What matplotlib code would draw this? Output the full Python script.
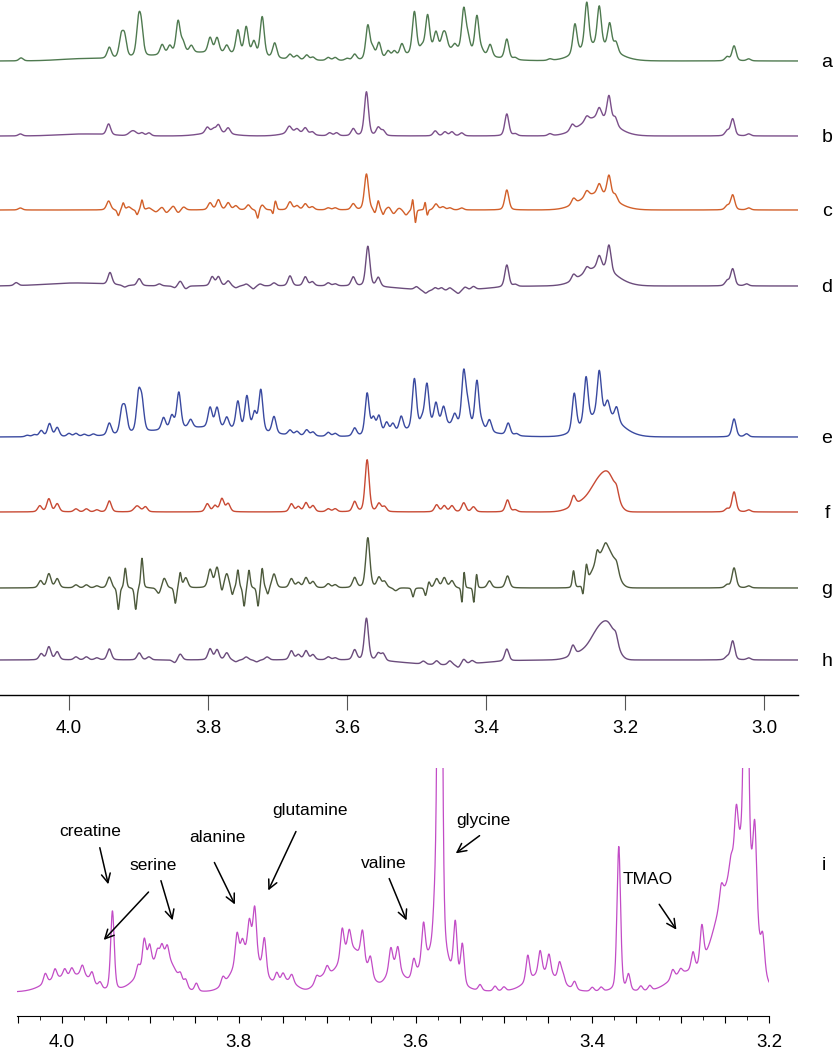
import numpy as np
import matplotlib
matplotlib.use("Agg")
import matplotlib.pyplot as plt

plt.rcParams['font.family'] = ['Liberation Sans', 'DejaVu Sans']

# ---------------- data: peak lists (ppm, height[px], half-width[ppm]) ----------------
W = 0.0035
a_peaks = [(4.069, 3, W), (3.98, 2, 0.04), (3.942, 11, W), (3.925, 20, W), (3.920, 20, W), (3.900, 32, W),
           (3.896, 26, W), (3.866, 10, W), (3.855, 8, W), (3.843, 32, W), (3.836, 10, W), (3.824, 7, W),
           (3.81, 8, 0.08), (3.797, 15, W), (3.787, 15, W), (3.773, 8, W), (3.757, 24, W), (3.745, 28, W),
           (3.734, 14, W), (3.722, 40, W), (3.704, 15, W), (3.682, 5, W), (3.672, 4, W), (3.658, 5, W),
           (3.649, 3, W), (3.627, 3, W), (3.617, 3, W), (3.600, 2, W), (3.589, 6, W), (3.570, 34, W),
           (3.563, 10, W), (3.554, 16, W), (3.541, 7, W), (3.532, 6, W), (3.521, 12, W), (3.46, 10, 0.055),
           (3.503, 42, W), (3.492, 5, W), (3.484, 36, W), (3.472, 18, W), (3.462, 12, W), (3.458, 12, W),
           (3.445, 6, W), (3.432, 42, W), (3.426, 14, W), (3.413, 38, W), (3.406, 4, W), (3.394, 12, W),
           (3.370, 20, W), (3.358, 2, W), (3.308, 1.5, W), (3.24, 14, 0.03), (3.272, 30, W), (3.255, 46, W),
           (3.237, 40, W), (3.222, 26, W), (3.213, 10, W), (3.053, 4, W), (3.043, 15, W), (3.022, 2, W)]

b_peaks = [(4.070, 2, W), (3.98, 2, 0.04), (3.943, 11, W), (3.908, 5, 0.006), (3.895, 3, W), (3.885, 3, W),
           (3.79, 3, 0.025), (3.801, 6, W), (3.792, 4, W), (3.785, 8, W), (3.771, 6, W), (3.675, 3, 0.02),
           (3.683, 7, 0.004), (3.672, 4, W), (3.660, 6, W), (3.650, 3, W), (3.625, 3, W), (3.615, 3, W),
           (3.591, 7, W), (3.572, 44, W), (3.555, 8, W), (3.548, 5, W), (3.473, 5, W), (3.459, 4, W),
           (3.449, 4, W), (3.435, 3, W), (3.370, 22, W), (3.358, 2, W), (3.308, 2, W), (3.24, 18, 0.028),
           (3.276, 6, W), (3.255, 5, W), (3.237, 10, W), (3.223, 26, W), (3.214, 8, W), (3.053, 5, W),
           (3.045, 17, W), (3.022, 2, W)]

c_peaks = [(4.070, 2, W), (3.943, 9, W), (3.929, -6, 0.002), (3.922, 7, 0.002), (3.914, 3, W),
           (3.902, -5, 0.002), (3.895, 10, 0.002), (3.885, 2, W), (3.875, -2, W), (3.866, 3, W),
           (3.860, -3, W), (3.850, 4, W), (3.843, -3, W), (3.835, 3, W), (3.797, 7, W), (3.785, 10, W),
           (3.771, 7, W), (3.760, 4, W), (3.742, 5, W), (3.7285, -9, 0.002), (3.722, 5, W),
           (3.7065, -5, 0.0015), (3.703, 9, 0.002), (3.682, 8, W), (3.672, 4, W), (3.660, 6, W), (3.650, 3, W),
           (3.627, 2, W), (3.617, 2, W), (3.591, 6, W), (3.572, 36, W), (3.560, -4, 0.002), (3.555, 9, 0.002),
           (3.548, -5, 0.002), (3.540, 3, W), (3.533, -4, W), (3.525, 2, W), (3.515, -5, W),
           (3.5055, 11, 0.0015), (3.5015, -13, 0.0015), (3.4875, 8, 0.0015), (3.4845, -6, 0.0015),
           (3.472, 6, W), (3.462, 3, W), (3.452, 2, W), (3.435, 2, W), (3.370, 20, W), (3.24, 16, 0.028),
           (3.274, 6, W), (3.255, 6, W), (3.237, 10, W), (3.223, 22, W), (3.214, 6, W), (3.053, 4, W),
           (3.045, 15, W), (3.022, 2, W)]

d_peaks = [(4.076, 3, W), (3.99, 3, 0.05), (3.941, 12, W), (3.92, -2, W), (3.899, 7, W), (3.870, 2, W),
           (3.848, -2, W), (3.840, 5, W), (3.832, -3, W), (3.794, 9, W), (3.785, 9, W), (3.771, 5, W),
           (3.760, -2, W), (3.745, 2, W), (3.735, -3, W), (3.725, 2, W), (3.705, 3, W), (3.682, 10, W),
           (3.660, 9, W), (3.650, 4, W), (3.627, 3, W), (3.617, 2, W), (3.591, 9, W), (3.570, 40, W),
           (3.555, 9, W), (3.46, -5, 0.06), (3.50, 3, W), (3.487, -3, W), (3.473, 3, W), (3.464, 3, W),
           (3.452, 3, W), (3.44, -3, W), (3.43, 3, W), (3.418, 3, W), (3.370, 22, W), (3.358, 2, W),
           (3.238, 18, 0.028), (3.274, 6, W), (3.255, 5, W), (3.237, 12, W), (3.223, 26, W), (3.053, 5, W),
           (3.045, 17, W), (3.025, 2, W)]

e_peaks = [(4.060, 1.5, W), (4.050, 2, W), (4.040, 6, W), (4.028, 13, W), (4.017, 9, W), (4.000, 3, W),
           (3.990, 3, W), (3.978, 2, W), (3.965, 2, W), (3.942, 12, W), (3.924, 22, W), (3.919, 22, W),
           (3.900, 36, W), (3.895, 28, W), (3.864, 12, W), (3.852, 13, W), (3.842, 36, W), (3.825, 8, W),
           (3.81, 9, 0.08), (3.797, 20, W), (3.787, 20, W), (3.773, 11, W), (3.757, 28, W), (3.744, 34, W),
           (3.733, 18, W), (3.724, 42, W), (3.705, 17, W), (3.682, 5, W), (3.672, 4, W), (3.658, 6, W),
           (3.649, 4, W), (3.627, 4, W), (3.617, 3, W), (3.589, 8, W), (3.571, 42, W), (3.562, 16, W),
           (3.554, 18, W), (3.543, 11, W), (3.534, 9, W), (3.522, 15, W), (3.46, 11, 0.055), (3.503, 50, W),
           (3.492, 7, W), (3.485, 42, W), (3.472, 22, W), (3.461, 18, W), (3.445, 11, W), (3.432, 54, W),
           (3.426, 20, W), (3.413, 48, W), (3.406, 6, W), (3.395, 12, W), (3.368, 12, W), (3.356, 2, W),
           (3.232, 22, 0.028), (3.273, 38, W), (3.256, 46, W), (3.237, 44, W), (3.225, 14, W), (3.212, 14, W),
           (3.043, 18, W), (3.025, 3, W)]

f_peaks = [(4.042, 6, W), (4.029, 13, W), (4.017, 8, W), (3.99, 3, W), (3.975, 3, W), (3.96, 2, W),
           (3.942, 11, W), (3.902, 6, 0.005), (3.890, 5, W), (3.801, 8, W), (3.790, 6, W), (3.780, 13, W),
           (3.771, 8, W), (3.680, 8, W), (3.670, 5, W), (3.659, 9, W), (3.649, 6, W), (3.627, 3, W),
           (3.617, 3, W), (3.589, 10, W), (3.571, 52, W), (3.554, 8, W), (3.546, 5, W), (3.471, 7, W),
           (3.460, 6, W), (3.449, 6, W), (3.432, 9, W), (3.418, 5, W), (3.369, 12, W), (3.358, 2, W),
           (3.274, 10, W), (3.258, 10, 0.02), (3.236, 26, 0.014), (3.221, 24, 0.011), (3.212, 8, W),
           (3.053, 3, W), (3.043, 20, W), (3.022, 2, W)]

g_peaks = [(4.041, 7, W), (4.029, 14, W), (4.017, 9, W), (3.99, 3, W), (3.975, 3, W), (3.96, 2, W),
           (3.942, 11, W), (3.929, -22, 0.002), (3.919, 20, 0.002), (3.904, -22, 0.002), (3.895, 30, 0.002),
           (3.871, -6, W), (3.863, 10, W), (3.847, -16, 0.002), (3.840, 15, 0.002), (3.832, 10, W),
           (3.797, 18, W), (3.787, 20, W), (3.780, -6, 0.002), (3.773, 14, W), (3.765, -8, 0.002),
           (3.757, 18, 0.002), (3.748, -19, 0.002), (3.741, 18, 0.002), (3.728, -19, 0.002),
           (3.722, 20, 0.002), (3.714, -7, 0.002), (3.705, 14, W), (3.680, 9, W), (3.670, 5, W),
           (3.659, 10, W), (3.649, 6, W), (3.627, 4, W), (3.617, 3, W), (3.589, 10, W), (3.570, 50, W),
           (3.554, 10, W), (3.546, 6, W), (3.53, -3, W), (3.505, -9, 0.002), (3.487, -8, 0.002),
           (3.482, 6, 0.002), (3.471, 9, W), (3.460, 10, W), (3.449, 7, W), (3.4345, -16, 0.0015),
           (3.4315, 17, 0.0015), (3.4175, -15, 0.0015), (3.4135, 14, 0.0015), (3.395, 7, W), (3.369, 12, W),
           (3.274, 17, 0.002), (3.2605, -10, 0.0015), (3.2555, 17, 0.002), (3.236, 26, 0.014),
           (3.221, 24, 0.011), (3.240, 10, 0.0025), (3.228, 6, W), (3.212, 8, W), (3.053, 3, W),
           (3.043, 20, W), (3.022, 2, W)]

h_peaks = [(4.040, 6, W), (4.029, 13, W), (4.017, 8, W), (3.99, 3, W), (3.975, 3, W), (3.96, 2, W),
           (3.942, 11, W), (3.899, 7, W), (3.885, 3, W), (3.848, -3, W), (3.840, 6, W), (3.797, 11, W),
           (3.787, 10, W), (3.773, 7, W), (3.760, -2, W), (3.745, 3, W), (3.730, -2, W), (3.715, 3, W),
           (3.680, 9, W), (3.670, 5, W), (3.659, 9, W), (3.649, 5, W), (3.627, 3, W), (3.617, 2, W),
           (3.589, 10, W), (3.572, 42, W), (3.555, 7, W), (3.548, 7, W), (3.46, -5, 0.06), (3.49, 3, W),
           (3.471, 4, W), (3.452, 4, W), (3.44, -3, W), (3.432, 5, W), (3.42, 3, W), (3.370, 12, W),
           (3.275, 10, W), (3.258, 8, 0.02), (3.236, 26, 0.014), (3.221, 22, 0.011), (3.213, 8, W),
           (3.053, 3, W), (3.045, 19, W), (3.022, 2, W)]

Wi = 0.0024
i_peaks = [(4.000, 14, 0.022), (3.975, 10, 0.012), (3.897, 26, 0.02), (3.878, 16, 0.01), (3.79, 38, 0.018),
           (3.745, 10, 0.012), (3.705, 12, 0.01), (3.672, 42, 0.018), (3.624, 22, 0.01), (3.58, 30, 0.02),
           (3.455, 18, 0.02), (3.245, 100, 0.02), (3.225, 80, 0.012), (3.295, 18, 0.02),
           (4.019, 10, Wi), (4.008, 10, Wi), (3.997, 8, Wi), (3.989, 8, Wi), (3.977, 10, Wi), (3.966, 10, Wi),
           (3.957, 6, Wi), (3.943, 80, Wi), (3.914, 10, Wi), (3.907, 30, Wi), (3.901, 20, Wi), (3.892, 12, Wi),
           (3.887, 15, Wi), (3.881, 14, Wi), (3.866, 8, Wi), (3.860, 8, Wi), (3.848, 8, Wi), (3.818, 8, Wi),
           (3.802, 30, Wi), (3.796, 15, Wi), (3.788, 32, Wi), (3.782, 50, Wi), (3.771, 35, Wi),
           (3.757, 10, Wi), (3.750, 8, Wi), (3.740, 8, Wi), (3.712, 6, Wi), (3.700, 8, Wi), (3.683, 30, Wi),
           (3.675, 20, Wi), (3.660, 30, Wi), (3.651, 18, Wi), (3.628, 22, Wi), (3.620, 22, Wi),
           (3.602, 17, Wi), (3.591, 40, Wi), (3.578, 35, Wi), (3.5725, 800, Wi), (3.555, 55, Wi),
           (3.547, 40, Wi), (3.527, 6, Wi), (3.51, 5, Wi), (3.5, 4, Wi), (3.473, 26, Wi), (3.459, 23, Wi),
           (3.449, 20, Wi), (3.437, 18, Wi), (3.433, 8, Wi), (3.420, 8, Wi), (3.400, 4, Wi), (3.390, 4, Wi),
           (3.370, 145, Wi), (3.359, 16, Wi), (3.345, 5, Wi), (3.335, 5, Wi), (3.309, 9, Wi), (3.300, 5, Wi),
           (3.286, 18, Wi), (3.276, 38, Wi), (3.254, 17, Wi), (3.243, 15, Wi), (3.237, 50, Wi),
           (3.226, 400, Wi), (3.216, 85, Wi), (3.207, 30, Wi)]

labels_top = ['a', 'b', 'c', 'd', 'e', 'f', 'g', 'h']
colors_top = ['#4f7a50', '#7b4f8a', '#d2602a', '#6b4c7c', '#3a4aa0', '#c84a34', '#4d5a3c', '#6b4c7c']
color_i = '#c24cc6'
top_ticks = [4.0, 3.8, 3.6, 3.4, 3.2, 3.0]
bottom_labels = [4.0, 3.8, 3.6, 3.4, 3.2]
annotations = [('creatine', (3.968, 184), (3.958, 171), (3.947, 129)),
               ('serine', (3.897, 150), (3.900, 126), (3.955, 74)),
               (None, None, (3.889, 138), (3.874, 93)),
               ('alanine', (3.824, 179), (3.829, 156), (3.803, 109)),
               ('glutamine', (3.719, 206), (3.734, 187), (3.768, 123)),
               ('valine', (3.636, 152), (3.631, 140), (3.609, 93)),
               ('glycine', (3.523, 196), (3.525, 182), (3.557, 161)),
               ('TMAO', (3.337, 136), (3.326, 114), (3.303, 84))]


def spectrum(x, peaks, eta=0.35):
    y = np.zeros_like(x)
    for c, h, w in peaks:
        t = (x - c) / w
        e = eta if w < 0.006 else 0.0
        y += h * (e / (1 + t * t) + (1 - e) * np.exp(-np.log(2) * t * t))
    return y


FW, FH = 834, 1050
fig = plt.figure(figsize=(FW / 100, FH / 100), dpi=100)

# ---------------- top panel ----------------
axis_y = 695
ax1 = fig.add_axes([0, (FH - axis_y) / FH, 798 / FW, axis_y / FH])
x1 = np.linspace(4.0993, 2.951, 5000)
base_px = [61, 136, 210, 286, 437, 512, 588, 660]
all_top = [a_peaks, b_peaks, c_peaks, d_peaks, e_peaks, f_peaks, g_peaks, h_peaks]
for pk, col, bp, lab in zip(all_top, colors_top, base_px, labels_top):
    ax1.plot(x1, axis_y - bp + spectrum(x1, pk), color=col, lw=1.0)
    fig.text(827 / FW, 1 - (bp + 6) / FH, lab, fontsize=14, ha='center', va='baseline')
ax1.set_xlim(4.0993, 2.951)
ax1.set_ylim(0, axis_y)
for s in ['top', 'left', 'right']:
    ax1.spines[s].set_visible(False)
ax1.spines['bottom'].set_linewidth(1.0)
ax1.set_yticks([])
ax1.set_xticks(top_ticks)
ax1.set_xticklabels([f'{t:.1f}' for t in top_ticks])
ax1.tick_params(axis='x', direction='out', length=11, width=0.8, labelsize=13.5, pad=7, color='#555555')

# ---------------- bottom panel ----------------
b_axis = 1016
b_top = 768
ax2 = fig.add_axes([17 / FW, (FH - b_axis) / FH, (769 - 17) / FW, (b_axis - b_top) / FH])
x2 = np.linspace(4.051, 3.2, 4000)
ax2.plot(x2, 24 + spectrum(x2, i_peaks), color=color_i, lw=0.9)
ax2.set_xlim(4.051, 3.2)
ax2.set_ylim(0, b_axis - b_top)
for s in ['top', 'left', 'right']:
    ax2.spines[s].set_visible(False)
ax2.set_yticks([])
major = np.round(np.arange(3.2, 4.0501, 0.05), 3)
ax2.set_xticks(major)
ax2.set_xticklabels([f'{t:.1f}' if np.round(t, 2) in bottom_labels else '' for t in major])
ax2.set_xticks(np.arange(3.225, 4.051, 0.05), minor=True)
ax2.tick_params(axis='x', which='major', direction='out', length=5, width=0.8, labelsize=13.5, pad=8)
ax2.tick_params(axis='x', which='minor', direction='out', length=3, width=0.6)
fig.text(824 / FW, 1 - 870 / FH, 'i', fontsize=14, ha='center', va='baseline')

for txt, tpos, tail, head in annotations:
    if txt:
        ax2.text(tpos[0], tpos[1], txt, fontsize=12.5, ha='center', va='center')
    ax2.annotate('', xy=head, xytext=tail,
                 arrowprops=dict(arrowstyle='->', color='black', lw=1.1, mutation_scale=16))

fig.savefig('out.png', dpi=100)
